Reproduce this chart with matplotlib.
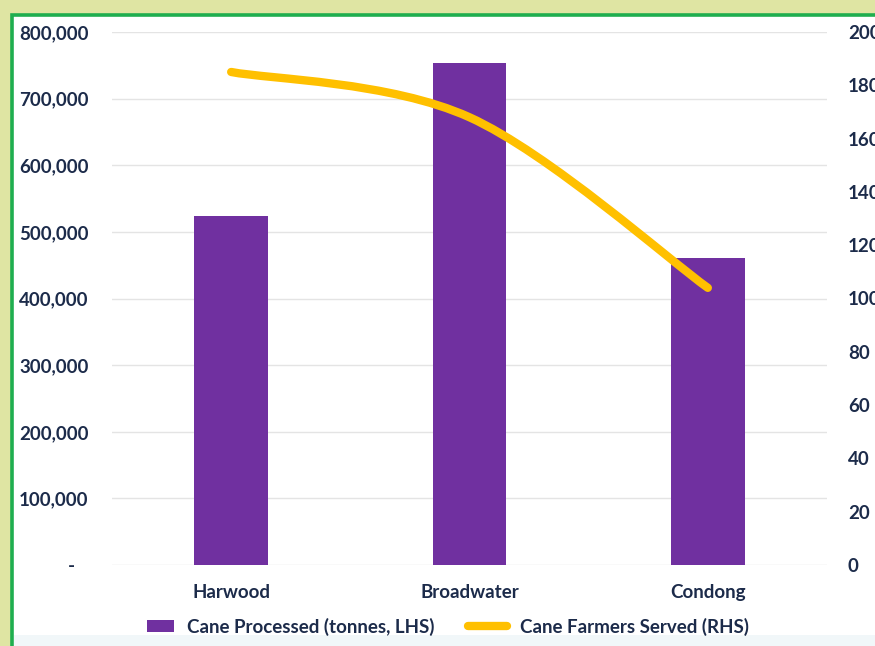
import numpy as np
import matplotlib.pyplot as plt
from matplotlib.patches import Rectangle, PathPatch, Patch
from matplotlib.path import Path
from matplotlib.lines import Line2D
from matplotlib.ticker import FuncFormatter
from matplotlib.legend_handler import HandlerPatch

# Данные
mills = ["Harwood", "Broadwater", "Condong"]
cane_tonnes = [524000, 754000, 461000]   # левая ось
farmers = [185, 168, 104]                # правая ось

purple = "#7030A0"
gold = "#FFC000"
navy = "#1c2b4a"

plt.rcParams["font.family"] = ["Lato", "DejaVu Sans"]
plt.rcParams["font.weight"] = "bold"

fig = plt.figure(figsize=(8.75, 6.46), dpi=100, facecolor="#dfe5a3")

# рамка скриншота
fig.patches.append(Rectangle((12 / 875, -0.05), 1.1, 1.05 - 15 / 646,
                             transform=fig.transFigure, facecolor="white",
                             edgecolor="#1fae4f", linewidth=2.6, zorder=-10))
fig.patches.append(Rectangle((14 / 875, 0), 1.0, 11 / 646,
                             transform=fig.transFigure, facecolor="#f1f7f9",
                             edgecolor="none", zorder=-9))

ax = fig.add_axes([112 / 875, 81 / 646, 715 / 875, 533 / 646])
ax.set_facecolor("none")
x = np.arange(len(mills))
ax.bar(x, cane_tonnes, width=0.31, color=purple, zorder=2)
ax.set_xlim(-0.5, 2.5)
ax.set_ylim(0, 800000)
ax.set_yticks(np.arange(0, 800001, 100000))
ax.yaxis.set_major_formatter(FuncFormatter(lambda v, p: "-   " if v == 0 else f"{v:,.0f}"))
ax.grid(axis="y", color="#e4e4e4", lw=1, zorder=0)
ax.set_xticks(x)
ax.set_xticklabels(mills)
ax.tick_params(axis="y", length=0, pad=17, labelsize=13.5, labelcolor=navy)
ax.tick_params(axis="x", length=0, pad=14, labelsize=13.5, labelcolor=navy)
for s in ax.spines.values():
    s.set_visible(False)

ax2 = ax.twinx()
ax2.set_ylim(0, 200)
ax2.set_yticks(np.arange(0, 201, 20))
ax2.tick_params(axis="y", length=0, pad=15, labelsize=13.5, labelcolor=navy)
for s in ax2.spines.values():
    s.set_visible(False)

# сглаженная линия (как "Smoothed line" в Excel) — кривые Безье через точки
px = np.array(x, dtype=float)
py = np.array(farmers, dtype=float)
verts = [(px[0], py[0])]
codes = [Path.MOVETO]
n = len(px)
for i in range(n - 1):
    p0 = np.array([px[max(i - 1, 0)], py[max(i - 1, 0)]])
    p1 = np.array([px[i], py[i]])
    p2 = np.array([px[i + 1], py[i + 1]])
    p3 = np.array([px[min(i + 2, n - 1)], py[min(i + 2, n - 1)]])
    c1 = p1 + (p2 - p0) / 6
    c2 = p2 - (p3 - p1) / 6
    verts += [tuple(c1), tuple(c2), tuple(p2)]
    codes += [Path.CURVE4] * 3
ax2.add_patch(PathPatch(Path(verts, codes), facecolor="none", edgecolor=gold,
                        lw=6, capstyle="round", joinstyle="round", zorder=3))


# узкий прямоугольник в легенде, прижатый к тексту
def small_rect(legend, orig_handle, xdescent, ydescent, width, height, fontsize):
    w = width * 0.68
    return Rectangle((width - w - xdescent, -ydescent), w, height)


handles = [Patch(facecolor=purple, edgecolor="none"),
           Line2D([], [], color=gold, lw=6, solid_capstyle="round")]
fig.legend(handles, ["Cane Processed (tonnes, LHS)", "Cane Farmers Served (RHS)"],
           loc="center", bbox_to_anchor=(0.505, 0.03), ncol=2, frameon=False,
           fontsize=13.5, labelcolor=navy, handlelength=2.1, handleheight=0.6,
           handletextpad=0.7, columnspacing=1.8,
           handler_map={Patch: HandlerPatch(patch_func=small_rect)})

fig.savefig("out.png", dpi=100, facecolor=fig.get_facecolor())
